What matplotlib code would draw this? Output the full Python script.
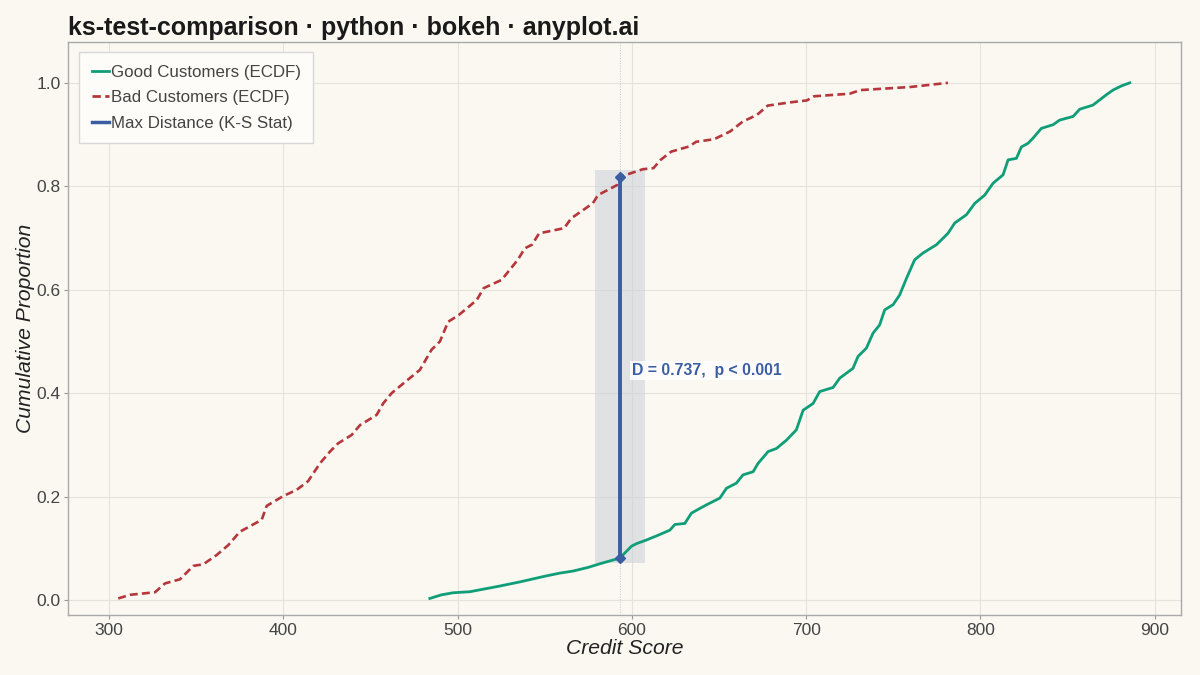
import matplotlib
matplotlib.use('Agg')
import matplotlib.pyplot as plt
from matplotlib.lines import Line2D

plt.rcParams['font.family'] = ['Liberation Sans', 'DejaVu Sans']

# ECDF corner points (credit score, cumulative proportion)
good_x = [484.1, 490.8, 497.5, 507.1, 524.3, 535.8, 550.1, 558.7, 566.3, 574.9,
          581.6, 593.1, 599.8, 602.7, 608.4, 614.2, 621.8, 624.7, 630.4, 634.2,
          642.8, 650.5, 654.3, 660.0, 663.8, 669.6, 672.4, 678.2, 683.0, 688.7,
          694.4, 698.3, 704.0, 707.8, 715.5, 719.3, 726.9, 729.8, 734.6, 738.4,
          742.2, 745.1, 749.9, 753.7, 757.6, 762.3, 767.1, 774.8, 781.4, 785.3,
          792.0, 796.8, 802.5, 807.3, 813.0, 815.9, 820.7, 823.5, 827.3, 830.2,
          835.0, 841.7, 845.5, 853.2, 857.0, 864.6, 872.3, 876.1, 880.9, 885.7]
good_y = [0.003, 0.010, 0.014, 0.016, 0.027, 0.035, 0.046, 0.052, 0.056, 0.063,
          0.070, 0.081, 0.104, 0.109, 0.116, 0.124, 0.135, 0.146, 0.148, 0.168,
          0.184, 0.197, 0.216, 0.226, 0.242, 0.248, 0.264, 0.287, 0.293, 0.309,
          0.329, 0.367, 0.380, 0.403, 0.411, 0.429, 0.448, 0.471, 0.487, 0.516,
          0.532, 0.561, 0.571, 0.590, 0.622, 0.658, 0.671, 0.687, 0.709, 0.729,
          0.745, 0.767, 0.783, 0.806, 0.822, 0.851, 0.854, 0.876, 0.883, 0.893,
          0.912, 0.919, 0.928, 0.935, 0.949, 0.957, 0.977, 0.986, 0.994, 1.000]

bad_x = [305.3, 312.0, 326.4, 332.1, 340.7, 348.4, 354.1, 361.8, 368.4, 375.1,
         387.6, 390.5, 400.0, 407.7, 414.3, 421.0, 426.8, 431.5, 439.2, 444.0,
         453.6, 457.3, 462.2, 467.9, 478.4, 485.1, 489.9, 494.6, 500.7, 511.0,
         515.0, 525.3, 528.4, 534.6, 538.6, 542.7, 546.8, 561.2, 565.2, 577.6,
         580.6, 591.9, 593.1, 606.3, 612.4, 616.5, 622.6, 632.9, 636.9, 647.2,
         656.4, 663.6, 671.8, 678.0, 690.2, 700.4, 704.6, 725.0, 731.2, 759.9,
         781.4]
bad_y = [0.003, 0.010, 0.015, 0.032, 0.040, 0.066, 0.069, 0.087, 0.106, 0.132,
         0.155, 0.182, 0.201, 0.213, 0.230, 0.264, 0.287, 0.303, 0.319, 0.338,
         0.358, 0.380, 0.400, 0.416, 0.445, 0.484, 0.500, 0.538, 0.551, 0.580,
         0.603, 0.619, 0.632, 0.658, 0.680, 0.687, 0.709, 0.719, 0.738, 0.767,
         0.783, 0.803, 0.818, 0.833, 0.835, 0.851, 0.867, 0.877, 0.886, 0.891,
         0.906, 0.925, 0.938, 0.956, 0.962, 0.966, 0.974, 0.979, 0.986, 0.992,
         1.000]

# K-S statistic
ks_x = 593.1
ks_good = 0.081
ks_bad = 0.818
ks_d = 0.737
band_x = (579.0, 607.5)
band_y = (0.071, 0.832)

GREEN = '#0f9e78'
RED = '#b5363b'
BLUE = '#3b5ea3'
BG = '#faf8f1'

fig = plt.figure(figsize=(12, 6.75), dpi=100, facecolor=BG)
ax = fig.add_axes([0.0567, 0.0889, 0.9273, 0.8489], facecolor=BG)

ax.fill_between(band_x, band_y[0], band_y[1], color='#c5ccd6', alpha=0.5,
                linewidth=0, zorder=1)
ax.axvline(ks_x, color='#c0c5cc', linestyle=':', linewidth=0.7, zorder=1)

ax.plot(good_x, good_y, color=GREEN, linewidth=2.0, zorder=3)
ax.plot(bad_x, bad_y, color=RED, linewidth=1.9,
        linestyle=(0, (3, 1.6)), zorder=3)

ax.plot([ks_x, ks_x], [ks_good, ks_bad], color=BLUE, linewidth=2.8, zorder=4)
ax.plot([ks_x, ks_x], [ks_good, ks_bad], linestyle='none', marker='D',
        markersize=5.5, color=BLUE, zorder=5)

ax.text(600.3, 0.444, 'D = %.3f,  p < 0.001' % ks_d, color=BLUE, fontsize=11.4,
        fontweight='bold', va='center', ha='left', zorder=6,
        bbox=dict(facecolor='white', edgecolor='none', alpha=0.85, pad=1.5))

ax.set_xlim(276.5, 915)
ax.set_ylim(-0.029, 1.079)
ax.set_xticks([300, 400, 500, 600, 700, 800, 900])
ax.set_yticks([0.0, 0.2, 0.4, 0.6, 0.8, 1.0])
ax.set_yticklabels(['0.0', '0.2', '0.4', '0.6', '0.8', '1.0'])
ax.grid(True, color='#e6e3dc', linewidth=0.8, zorder=0)
ax.set_axisbelow(True)
ax.tick_params(colors='#444444', labelsize=12.5, length=3, pad=2.5,
               color='#999999')
for s in ax.spines.values():
    s.set_color('#aaaaaa')
    s.set_linewidth(1.0)

ax.set_xlabel('Credit Score', fontsize=15.2, style='italic', color='#222222',
              labelpad=1)
ax.set_ylabel('Cumulative Proportion', fontsize=15.2, style='italic',
              color='#222222', labelpad=0.5)

fig.text(0.0567, 0.959, 'ks-test-comparison \u00b7 python \u00b7 bokeh \u00b7 anyplot.ai',
         fontsize=18, fontweight='bold', color='#1a1a1a', va='center', ha='left')

handles = [Line2D([], [], color=GREEN, linewidth=2),
           Line2D([], [], color=RED, linewidth=2, linestyle=(0, (3, 1.6))),
           Line2D([], [], color=BLUE, linewidth=2.5)]
labels = ['Good Customers (ECDF)', 'Bad Customers (ECDF)', 'Max Distance (K-S Stat)']
leg = ax.legend(handles, labels, loc='upper left', fontsize=12.2, frameon=True,
                fancybox=False, handlelength=1.0, handletextpad=0.12,
                borderpad=0.75, labelspacing=0.62, borderaxespad=0,
                bbox_to_anchor=(0.0099, 0.9825))
leg.get_frame().set_facecolor('#fdfcf8')
leg.get_frame().set_edgecolor('#d8d8d8')
leg.get_frame().set_alpha(1)
for t in leg.get_texts():
    t.set_color('#444444')

fig.savefig('out.png', dpi=100, facecolor=BG)
